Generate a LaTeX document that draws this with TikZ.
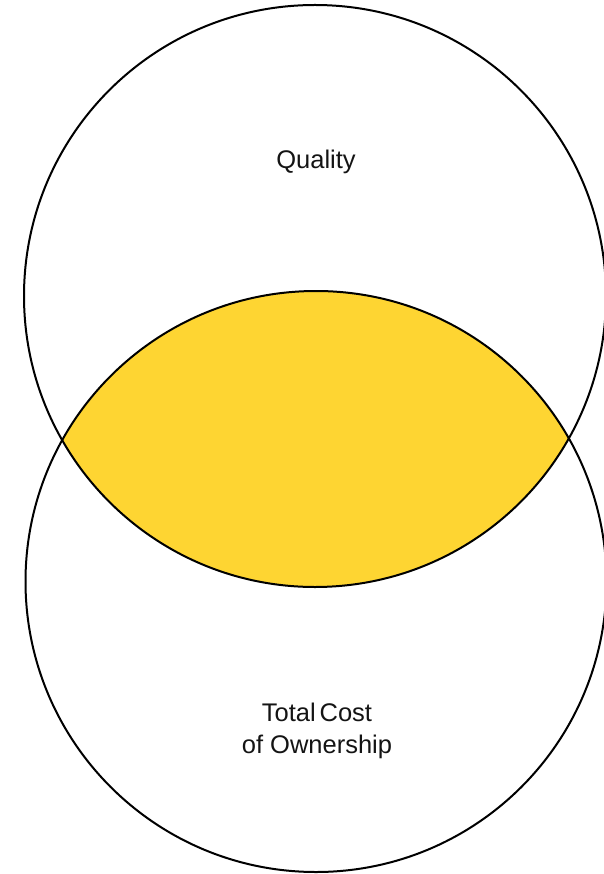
\documentclass[tikz,border=0pt]{standalone}
\usepackage{fontspec}
\setmainfont{Liberation Sans}
\definecolor{lensyellow}{RGB}{254,213,50}
\definecolor{txt}{RGB}{20,20,20}
\begin{document}
\begin{tikzpicture}[x=1pt,y=-1pt,
  ring/.style={circle,draw=black,line width=2pt,inner sep=0pt},
  label/.style={text=txt,font=\fontsize{25.5}{31.5}\selectfont,align=center,inner sep=0pt}]
\useasboundingbox (0,0) rectangle (604,874);
\begin{scope}
  \clip (315,296) circle[radius=291];
  \fill[lensyellow] (316,581.5) circle[radius=290.5];
\end{scope}
\node[ring,minimum size=582pt] (quality) at (315,296) {};
\node[ring,minimum size=581pt] (tco) at (316,581.5) {};
\node[label] (qlabel) at (316,162) {Quality};
\node[label] (tlabel) at (317,731) {Total\hspace{0.15em}Cost\\of Ownership};
\end{tikzpicture}
\end{document}
